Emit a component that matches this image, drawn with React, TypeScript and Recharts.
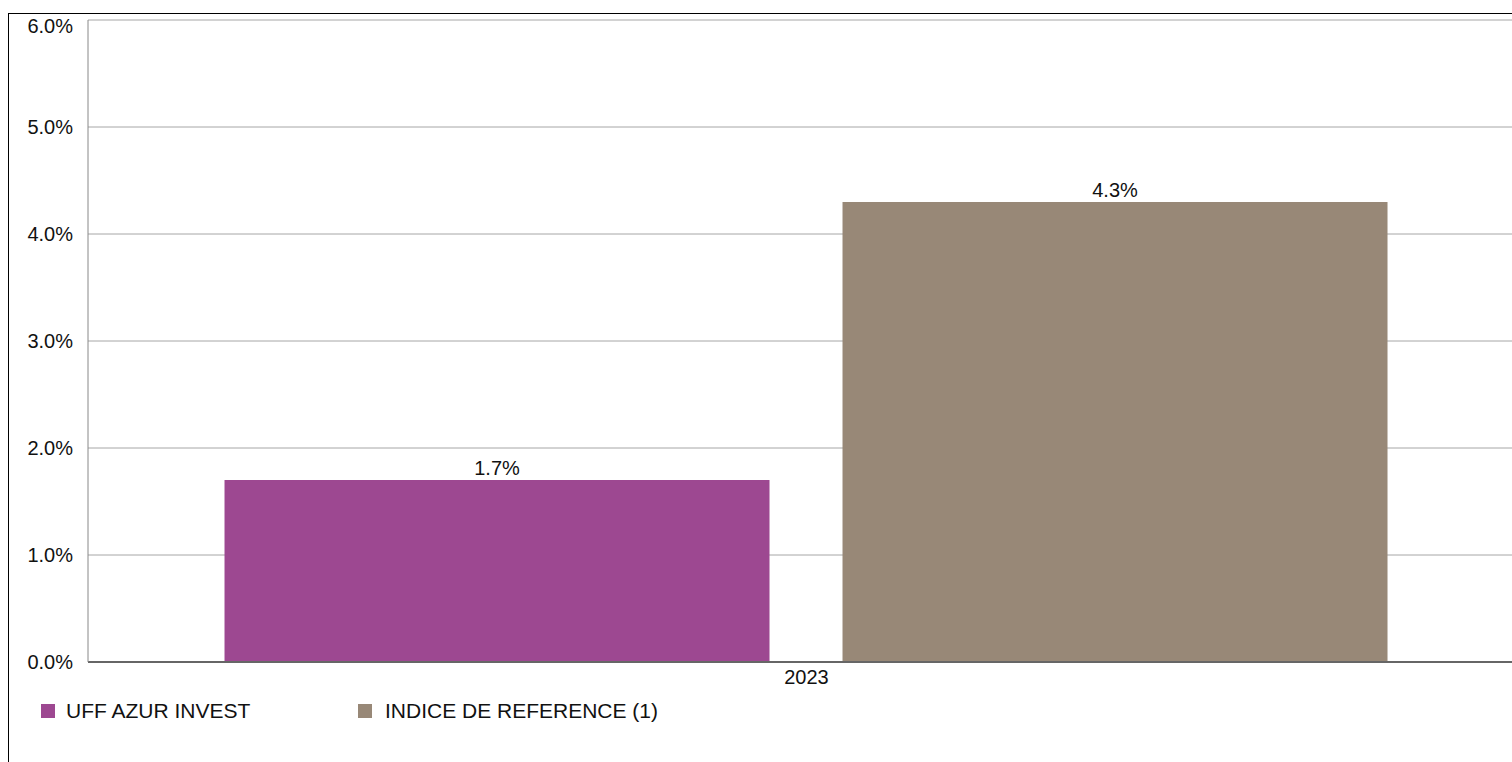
import { Bar, BarChart, CartesianGrid, LabelList, XAxis, YAxis } from "recharts";

const YEARS = ["2023"];
const FUND_VALUES = [1.7];
const INDEX_VALUES = [4.3];
const SERIES_NAMES = ["UFF AZUR INVEST", "INDICE DE REFERENCE (1)"];
const SERIES_COLORS = ["#9d4891", "#988877"];
const Y_TICKS = [0, 1, 2, 3, 4, 5, 6];

const data = YEARS.map((year, i) => ({ year, fund: FUND_VALUES[i], index: INDEX_VALUES[i] }));
const LEGEND_LEFT = [32, 349];

const pct = (v: number) => `${v.toFixed(1)}%`;

export default function App() {
  return (
    <div
      style={{
        position: "absolute",
        left: 8,
        top: 13,
        width: 1504,
        height: 749,
        borderTop: "1px solid #000",
        borderLeft: "1px solid #000",
        overflow: "hidden",
        fontFamily: "Arial, 'Liberation Sans', sans-serif",
        background: "#fff",
      }}
    >
      <BarChart
        width={1530}
        height={700}
        data={data}
        margin={{ top: 6, right: 14, bottom: 22, left: 0 }}
        barCategoryGap="9.5%"
        barGap={73}
      >
        <CartesianGrid vertical={false} stroke="#a6a6a6" />
        <XAxis
          dataKey="year"
          height={30}
          tickLine={false}
          axisLine={{ stroke: "#666", strokeWidth: 2 }}
          tick={{ fontSize: 20, fill: "#111" }}
        />
        <YAxis
          width={79}
          domain={[0, 6]}
          ticks={Y_TICKS}
          tickFormatter={pct}
          tickLine={false}
          tickMargin={9}
          axisLine={{ stroke: "#888" }}
          tick={{ fontSize: 20, fill: "#111" }}
        />
        <Bar dataKey="fund" name={SERIES_NAMES[0]} fill={SERIES_COLORS[0]} isAnimationActive={false}>
          <LabelList dataKey="fund" position="top" formatter={pct} style={{ fontSize: 20, fill: "#111" }} />
        </Bar>
        <Bar dataKey="index" name={SERIES_NAMES[1]} fill={SERIES_COLORS[1]} isAnimationActive={false}>
          <LabelList dataKey="index" position="top" formatter={pct} style={{ fontSize: 20, fill: "#111" }} />
        </Bar>
      </BarChart>

      {/* legend */}
      {SERIES_NAMES.map((name, i) => (
        <div
          key={name}
          style={{
            position: "absolute",
            left: LEGEND_LEFT[i],
            top: 686,
            display: "flex",
            alignItems: "center",
            fontSize: 21,
            lineHeight: "21px",
            color: "#111",
            whiteSpace: "nowrap",
          }}
        >
          <span style={{ width: 14, height: 14, background: SERIES_COLORS[i], marginRight: 11 + i * 2 }} />
          {name}
        </div>
      ))}
    </div>
  );
}
